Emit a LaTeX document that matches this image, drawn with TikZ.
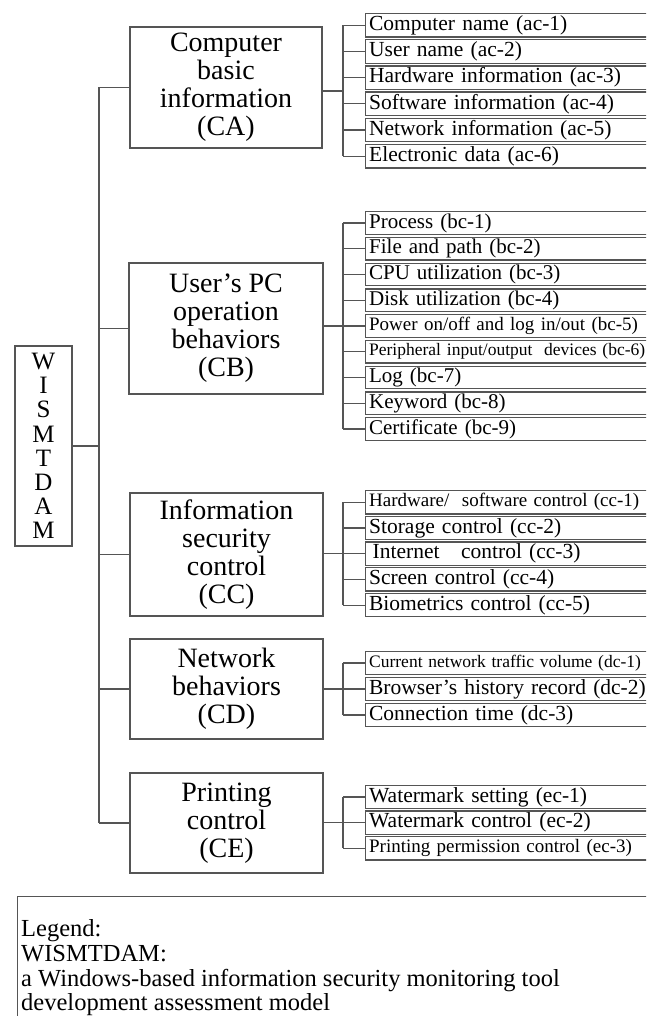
\documentclass[tikz,border=0pt]{standalone}
\usepackage{fontspec}
\setmainfont{Liberation Serif}
\definecolor{linec}{HTML}{555555}
\begin{document}
\begin{tikzpicture}[x=1pt,y=-1pt,
  conn/.style={draw=linec,line width=1.2pt},
  catbox/.style={draw=linec,line width=1.2pt,align=center,inner sep=0pt,
    font=\fontsize{28}{28}\selectfont},
  leafbox/.style={draw=linec,line width=1.3pt,anchor=west,text width=300pt,
    align=left,inner xsep=3.5pt,inner ysep=0pt,minimum height=23pt},
  fA/.style={font=\fontsize{21.5}{22}\selectfont},
  fB/.style={font=\fontsize{21}{22}\selectfont},
  fS/.style={font=\fontsize{19}{20}\selectfont},
  fT/.style={font=\fontsize{17.5}{18}\selectfont},
  legtext/.style={anchor=base west,inner sep=0pt,font=\fontsize{24.5}{25}\selectfont}]
\useasboundingbox (0,0) rectangle (646,1016);
\clip (0,0) rectangle (646,1016);

% root
\node[catbox,minimum width=57pt,minimum height=200pt,
  font=\fontsize{25}{24.2}\selectfont] (root) at (43.5,446)
  {W\\I\\S\\M\\T\\D\\A\\M};

% categories
\node[catbox,minimum width=192pt,minimum height=121pt] (CA) at (226,87.5)
  {Computer\\basic\\information\\(CA)};
\node[catbox,minimum width=194pt,minimum height=131pt] (CB) at (226,328.5)
  {User’s PC\\operation\\behaviors\\(CB)};
\node[catbox,minimum width=193pt,minimum height=123pt] (CC) at (226.5,554.5)
  {Information\\security\\control\\(CC)};
\node[catbox,minimum width=193pt,minimum height=100pt] (CD) at (226.5,689)
  {Network\\behaviors\\(CD)};
\node[catbox,minimum width=193pt,minimum height=100pt] (CE) at (226.5,823)
  {Printing\\control\\(CE)};

% trunk
\coordinate (trunk) at (99,0);
\draw[conn] (CA.west) -- (CA.west -| trunk);
\draw[conn] (CB.west) -- (CB.west -| trunk);
\draw[conn] (CC.west) -- (CC.west -| trunk);
\draw[conn] (CD.west) -- (CD.west -| trunk);
\draw[conn] (CE.west) -- (CE.west -| trunk);
\draw[conn] (CA.west -| trunk) -- (CE.west -| trunk);
\draw[conn] (root.east) -- (root.east -| trunk);

\coordinate (bx) at (343,0);

% ac leaves
\node[leafbox,fA,minimum height=23.5pt] (a1) at (365,25.3) {Computer name (ac-1)};
\node[leafbox,fA,minimum height=23.5pt] (a2) at (365,51.5) {User name (ac-2)};
\node[leafbox,fA,minimum height=23.5pt] (a3) at (365,77.7) {Hardware information (ac-3)};
\node[leafbox,fA,minimum height=23.5pt] (a4) at (365,103.9) {Software information (ac-4)};
\node[leafbox,fA,minimum height=23.5pt] (a5) at (365,130.1) {Network information (ac-5)};
\node[leafbox,fA,minimum height=23.5pt] (a6) at (365,156.3) {Electronic data (ac-6)};
\coordinate (ma) at (343,91);
\foreach \n in {a1,a2,a3,a4,a5,a6} \draw[conn] (\n.west) -- (\n.west -| bx);
\draw[conn] (a1.west -| bx) -- (a6.west -| bx);
\draw[conn] (CA.east |- ma) -- (ma);

% bc leaves
\node[leafbox,fB,minimum height=22.5pt] (b1) at (365,223) {Process (bc-1)};
\node[leafbox,fB,minimum height=22.5pt] (b2) at (365,248.75) {File and path (bc-2)};
\node[leafbox,fB,minimum height=22.5pt] (b3) at (365,274.5) {CPU utilization\ (bc-3)};
\node[leafbox,fB,minimum height=22.5pt] (b4) at (365,300.25) {Disk utilization\ (bc-4)};
\node[leafbox,fS,minimum height=22.5pt] (b5) at (365,326) {Power on/off and log in/out (bc-5)};
\node[leafbox,fT,minimum height=22.5pt] (b6) at (365,351.75) {Peripheral input/output\ \ devices (bc-6)};
\node[leafbox,fB,minimum height=22.5pt] (b7) at (365,377.5) {Log (bc-7)};
\node[leafbox,fB,minimum height=22.5pt] (b8) at (365,403.25) {Keyword (bc-8)};
\node[leafbox,fB,minimum height=22.5pt] (b9) at (365,429) {Certificate (bc-9)};
\coordinate (mb) at (343,326);
\foreach \n in {b1,b2,b3,b4,b5,b6,b7,b8,b9} \draw[conn] (\n.west) -- (\n.west -| bx);
\draw[conn] (b1.west -| bx) -- (b9.west -| bx);
\draw[conn] (CB.east |- mb) -- (mb);

% cc leaves
\node[leafbox,fS,minimum height=23.3pt] (c1) at (365,502.3) {Hardware/\ \ software control (cc-1)};
\node[leafbox,fA,minimum height=23.3pt] (c2) at (365,528) {Storage control (cc-2)};
\node[leafbox,fA,minimum height=23.3pt] (c3) at (365,553.7) {\,Internet\ \ \ control (cc-3)};
\node[leafbox,fA,minimum height=23.3pt] (c4) at (365,579.4) {Screen control (cc-4)};
\node[leafbox,fA,minimum height=23.3pt] (c5) at (365,605.1) {Biometrics control (cc-5)};
\coordinate (mc) at (343,553.7);
\foreach \n in {c1,c2,c3,c4,c5} \draw[conn] (\n.west) -- (\n.west -| bx);
\draw[conn] (c1.west -| bx) -- (c5.west -| bx);
\draw[conn] (CC.east |- mc) -- (mc);

% dc leaves
\node[leafbox,fT,minimum height=23.5pt] (d1) at (365,663) {Current network traffic volume (dc-1)};
\node[leafbox,fA,minimum height=23.5pt] (d2) at (365,689) {Browser’s history record (dc-2)};
\node[leafbox,fA,minimum height=23.5pt] (d3) at (365,715) {Connection time (dc-3)};
\coordinate (md) at (343,689);
\foreach \n in {d1,d2,d3} \draw[conn] (\n.west) -- (\n.west -| bx);
\draw[conn] (d1.west -| bx) -- (d3.west -| bx);
\draw[conn] (CD.east |- md) -- (md);

% ec leaves
\node[leafbox,fA,minimum height=23.3pt] (e1) at (365,797) {Watermark setting (ec-1)};
\node[leafbox,fA,minimum height=23.3pt] (e2) at (365,822.7) {Watermark control (ec-2)};
\node[leafbox,fS,minimum height=23.3pt] (e3) at (365,848.4) {Printing permission\ control (ec-3)};
\coordinate (me) at (343,822.7);
\foreach \n in {e1,e2,e3} \draw[conn] (\n.west) -- (\n.west -| bx);
\draw[conn] (e1.west -| bx) -- (e3.west -| bx);
\draw[conn] (CE.east |- me) -- (me);

% legend
\node[draw=linec,line width=1.2pt,anchor=north west,minimum width=700pt,
  minimum height=200pt,inner sep=0pt] (legendframe) at (17,896) {};
\node[legtext] (leg1) at (21,936) {Legend:};
\node[legtext] (leg2) at (21,961) {WISMTDAM:};
\node[legtext] (leg3) at (21,986) {a Windows-based information security monitoring tool};
\node[legtext] (leg4) at (21,1010.5) {development assessment model};
\end{tikzpicture}
\end{document}
